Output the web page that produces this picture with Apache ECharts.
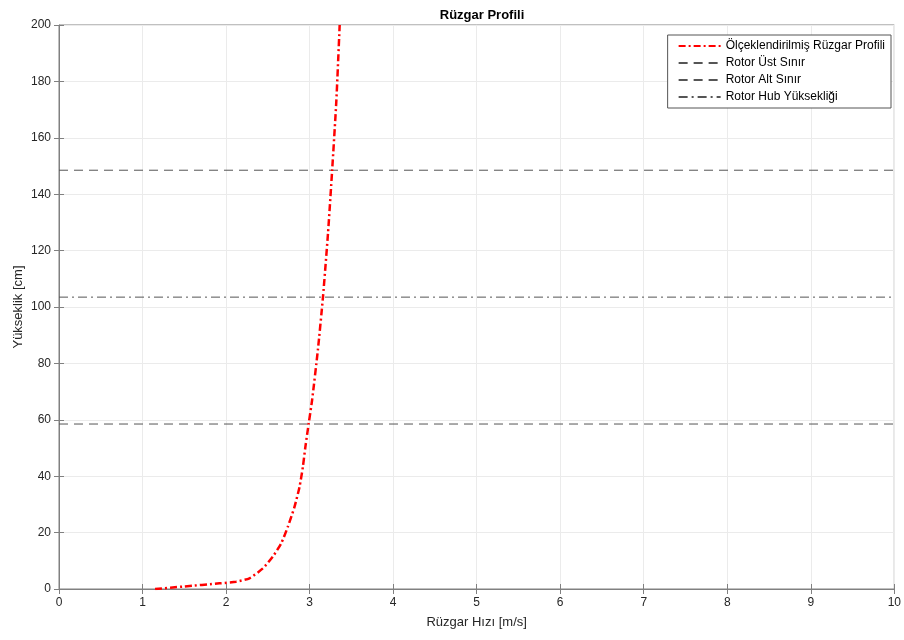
<!DOCTYPE html>
<html>
<head>
<meta charset="utf-8">
<script src="https://cdn.jsdelivr.net/npm/echarts@6/dist/echarts.min.js"></script>
<style>
  html, body { margin: 0; padding: 0; background: #fff; }
  #main { width: 904px; height: 640px; }
</style>
</head>
<body>
<div id="main"></div>
<script>
// rüzgar profili (okunan değerler)
const hiz = [1.15, 1.5, 1.92, 2.12, 2.28, 2.44, 2.56, 2.66, 2.74, 2.82, 2.88, 2.92, 2.95, 2.99, 3.03, 3.1, 3.16, 3.22, 3.27, 3.32, 3.36];
const yukseklik = [0, 0.9, 2.0, 2.6, 3.8, 7.3, 11.5, 16.2, 22.1, 29.2, 36.3, 43.4, 50.5, 58.8, 67, 85, 103.5, 126, 148.5, 173, 200];

const rotorUst = 148.5;
const rotorAlt = 58.5;
const rotorHub = 103.5;
const xAralik = [0, 10];

const font = 'Liberation Sans, Arial, sans-serif';
const textColor = '#262626';

const profil = hiz.map((v, i) => [v, yukseklik[i]]);
const yatay = h => xAralik.map(x => [x, h]);

let myChart = echarts.init(document.getElementById('main'));

const tickStyle = { show: true, inside: true, length: 5, lineStyle: { color: '#808080' } };

let option = {
  animation: false,
  title: {
    text: 'Rüzgar Profili',
    left: 477, top: 4, textAlign: 'center',
    textStyle: { fontFamily: font, fontSize: 13, fontWeight: 'bold', color: '#000' }
  },
  grid: { left: 59, right: 8, top: 25, bottom: 51, show: true, borderColor: '#808080', borderWidth: 1 },
  legend: {
    orient: 'vertical',
    right: 13, top: 35,
    backgroundColor: '#fff',
    borderColor: '#555',
    borderWidth: 1,
    borderRadius: 0,
    padding: [5, 6, 5, 10],
    itemGap: 5,
    itemWidth: 42,
    itemHeight: 12,
    itemStyle: { opacity: 0 },
    textStyle: { fontFamily: font, fontSize: 12, color: '#000' },
    data: ['Ölçeklendirilmiş Rüzgar Profili', 'Rotor Üst Sınır', 'Rotor Alt Sınır', 'Rotor Hub Yüksekliği']
  },
  xAxis: [
    {
      type: 'value', min: 0, max: 10, interval: 1,
      name: 'Rüzgar Hızı [m/s]', nameLocation: 'middle', nameGap: 27,
      nameTextStyle: { color: textColor, fontFamily: font, fontSize: 13 },
      axisLine: { show: true, onZero: false, lineStyle: { color: '#808080' } },
      axisTick: tickStyle,
      splitLine: { show: true, lineStyle: { color: '#ebebeb' } },
      axisLabel: { color: textColor, fontFamily: font, fontSize: 12, margin: 8 }
    },
    {
      type: 'value', min: 0, max: 10, interval: 1, position: 'top',
      axisLine: { show: false }, axisLabel: { show: false }, splitLine: { show: false },
      axisTick: tickStyle
    }
  ],
  yAxis: [
    {
      type: 'value', min: 0, max: 200, interval: 20,
      name: 'Yükseklik [cm]', nameLocation: 'middle', nameGap: 34,
      nameMoveOverlap: false,
      nameTextStyle: { color: textColor, fontFamily: font, fontSize: 13 },
      axisLine: { show: true, onZero: false, lineStyle: { color: '#808080' } },
      axisTick: tickStyle,
      splitLine: { show: true, lineStyle: { color: '#ebebeb' } },
      axisLabel: { color: textColor, fontFamily: font, fontSize: 12, margin: 8 }
    },
    {
      type: 'value', min: 0, max: 200, interval: 20, position: 'right',
      axisLine: { show: false }, axisLabel: { show: false }, splitLine: { show: false },
      axisTick: tickStyle
    }
  ],
  series: [
    {
      name: 'Ölçeklendirilmiş Rüzgar Profili',
      type: 'line', data: profil, showSymbol: false, smooth: 0.2,
      symbol: 'none',
      lineStyle: { color: '#ff0000', width: 2.5, type: [7, 3, 2, 3] },
      itemStyle: { color: '#ff0000' },
      z: 5
    },
    {
      name: 'Rotor Üst Sınır',
      type: 'line', data: yatay(rotorUst), showSymbol: false, symbol: 'none',
      lineStyle: { color: '#555', width: 1, type: [9, 6] },
      itemStyle: { color: '#555' }
    },
    {
      name: 'Rotor Alt Sınır',
      type: 'line', data: yatay(rotorAlt), showSymbol: false, symbol: 'none',
      lineStyle: { color: '#555', width: 1, type: [9, 6] },
      itemStyle: { color: '#555' }
    },
    {
      name: 'Rotor Hub Yüksekliği',
      type: 'line', data: yatay(rotorHub), showSymbol: false, symbol: 'none',
      lineStyle: { color: '#555', width: 1, type: [9, 4, 2, 4] },
      itemStyle: { color: '#555' }
    }
  ]
};

myChart.setOption(option);
</script>
</body>
</html>
